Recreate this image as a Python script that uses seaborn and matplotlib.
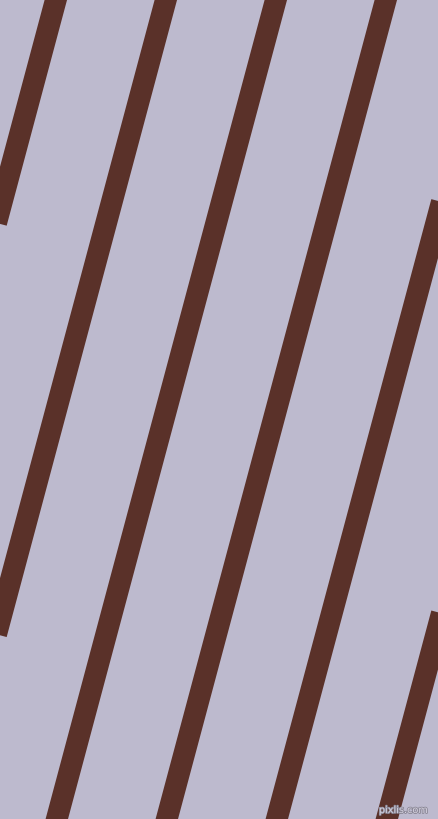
import pandas as pd
import matplotlib
matplotlib.use("Agg")
import matplotlib.pyplot as plt
import matplotlib.patheffects as pe
import seaborn as sns

# stripe centre x at the top (y=0) and bottom (y=819) edges
stripe_top_x = [55.8, 165.8, 275.8, 385.8, 495.8, 605.8]
stripe_bottom_x = [-163.2, -53.2, 56.8, 166.8, 276.8, 386.8]
edge_y = [0, 819]

background = "#BDBACE"
stripe_colour = "#5A3129"

rows = []
for i, (top, bottom) in enumerate(zip(stripe_top_x, stripe_bottom_x)):
    rows.append({"stripe": i, "x": top, "y": edge_y[0]})
    rows.append({"stripe": i, "x": bottom, "y": edge_y[1]})
data = pd.DataFrame(rows)

sns.set_theme(style="white")

fig = plt.figure(figsize=(4.39, 8.19), dpi=100)
fig.patch.set_facecolor(background)
ax = fig.add_axes([0, 0, 1, 1])
ax.set_facecolor(background)

sns.lineplot(
    data=data,
    x="x",
    y="y",
    units="stripe",
    estimator=None,
    sort=False,
    color=stripe_colour,
    linewidth=15.6,
    solid_capstyle="projecting",
    legend=False,
    ax=ax
)

ax.set_xlim(0, 439)
ax.set_ylim(819, 0)
ax.set_axis_off()

ax.text(
    428, 810, "pixlis.com",
    fontsize=7, color="#D4D1DE",
    ha="right", va="center",
    path_effects=[pe.withStroke(linewidth=1.2, foreground="#8A8796")]
)

fig.savefig("out.png", dpi=100, facecolor=background)
plt.close(fig)
